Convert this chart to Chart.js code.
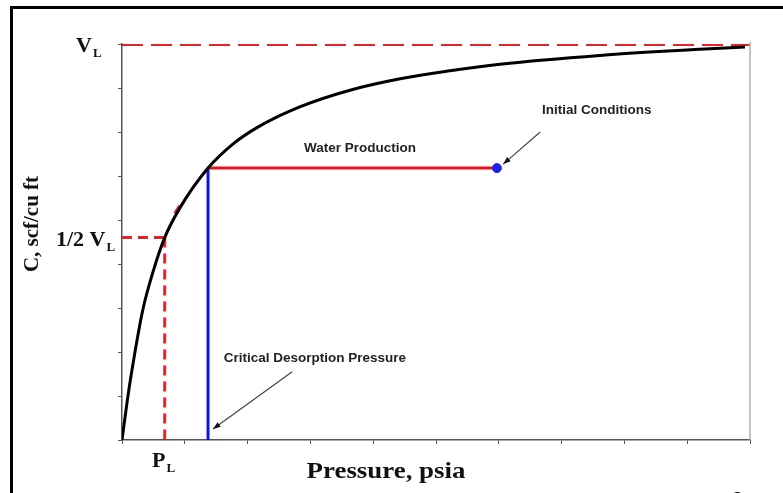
<!DOCTYPE html>
<html>
<head>
<meta charset="utf-8">
<script src="https://cdn.jsdelivr.net/npm/chart.js@4.4.1/dist/chart.umd.min.js"></script>
<style>
  html, body { margin: 0; padding: 0; background: #fff; }
  #wrap { width: 783px; height: 493px; position: relative; }
</style>
</head>
<body>
<div id="wrap"><canvas id="chart" width="783" height="493"></canvas></div>
<script>
// isotherm (pressure, gas content) in axis tick units
const pressure = [0, 0.08, 0.16, 0.33, 0.5, 0.68, 0.92, 1.37, 1.77, 2.15, 2.83, 3.63, 4.43, 5.22, 6.02, 7.61, 9.2, 9.92];
const content  = [0, 0.85, 1.6, 2.95, 3.85, 4.6, 5.27, 6.18, 6.73, 7.1, 7.57, 7.95, 8.21, 8.39, 8.54, 8.74, 8.88, 8.93];

// key points
const vL = 9;          // Langmuir volume
const halfVL = 4.6;    // 1/2 VL
const pL = 0.68;       // Langmuir pressure
const critP = 1.37;    // critical desorption pressure
const critC = 6.18;    // content at initial conditions
const initP = 5.97;    // initial reservoir pressure

const xMax = 10, yMax = 9;

const pts = (xs, ys) => xs.map((x, i) => ({ x: x, y: ys[i] }));

const serif = '"Liberation Serif", "Times New Roman", serif';

// texts, arrows, frame
const extras = {
  id: 'extras',
  afterDraw(chart) {
    const ctx = chart.ctx;
    const xs = chart.scales.x, ys = chart.scales.y;
    const X = v => xs.getPixelForValue(v), Y = v => ys.getPixelForValue(v);
    const area = chart.chartArea;
    ctx.save();

    // slide frame
    ctx.fillStyle = '#000';
    ctx.fillRect(10, 6, 790, 3);
    ctx.fillRect(10, 6, 3, 500);

    // right border of plot
    ctx.strokeStyle = '#b0b0b0';
    ctx.lineWidth = 1.5;
    ctx.beginPath();
    ctx.moveTo(area.right, area.top - 2);
    ctx.lineTo(area.right, area.bottom);
    ctx.stroke();

    // annotation labels
    ctx.fillStyle = '#222';
    ctx.font = 'bold 13.5px "Liberation Sans", Arial, sans-serif';
    ctx.textAlign = 'center';
    ctx.textBaseline = 'middle';
    ctx.fillText('Water Production', X(3.79), Y(6.64));
    ctx.fillText('Initial Conditions', X(7.56), Y(7.5));
    ctx.fillText('Critical Desorption Pressure', X(3.07), Y(1.86));

    // arrows
    function arrow(x1, y1, x2, y2) {
      const a = Math.atan2(y2 - y1, x2 - x1);
      ctx.strokeStyle = '#444';
      ctx.fillStyle = '#111';
      ctx.lineWidth = 1.2;
      ctx.beginPath();
      ctx.moveTo(x1, y1);
      ctx.lineTo(x2, y2);
      ctx.stroke();
      ctx.beginPath();
      ctx.moveTo(x2, y2);
      ctx.lineTo(x2 - 8 * Math.cos(a - 0.35), y2 - 8 * Math.sin(a - 0.35));
      ctx.lineTo(x2 - 8 * Math.cos(a + 0.35), y2 - 8 * Math.sin(a + 0.35));
      ctx.closePath();
      ctx.fill();
    }
    arrow(X(6.66), Y(7.0), X(6.07), Y(6.27));
    arrow(X(2.71), Y(1.55), X(1.45), Y(0.25));

    // axis labels (serif, bold)
    ctx.fillStyle = '#111';
    ctx.textBaseline = 'alphabetic';
    function sub(main, s, x, y, size) {
      ctx.font = 'bold ' + size + 'px ' + serif;
      ctx.textAlign = 'left';
      ctx.fillText(main, x, y);
      const w = ctx.measureText(main).width;
      ctx.font = 'bold ' + Math.round(size * 0.6) + 'px ' + serif;
      ctx.fillText(s, x + w + 1, y + 5);
    }
    sub('V', 'L', 76, Y(vL) + 8, 22);
    sub('1/2 V', 'L', 56, Y(halfVL) + 8, 22);
    sub('P', 'L', 152, 467, 22);

    ctx.font = 'bold 24px ' + serif;
    ctx.textAlign = 'center';
    ctx.save();
    ctx.translate(386, 478);
    ctx.scale(1.12, 1);
    ctx.fillText('Pressure, psia', 0, 0);
    ctx.restore();

    ctx.save();
    ctx.font = 'bold 21px ' + serif;
    ctx.translate(38, 224);
    ctx.rotate(-Math.PI / 2);
    ctx.fillText('C, scf/cu ft', 0, 0);
    ctx.restore();

    // slide page number (cut off at bottom)
    ctx.font = 'bold 20px ' + serif;
    ctx.fillText('2', 738, 506);

    ctx.restore();
  }
};

new Chart(document.getElementById('chart'), {
  type: 'line',
  data: {
    datasets: [
      { // isotherm
        data: pts(pressure, content),
        borderColor: '#000', borderWidth: 3,
        cubicInterpolationMode: 'monotone', pointRadius: 0, order: 0
      },
      { // VL
        data: [{ x: 0, y: vL }, { x: xMax, y: vL }],
        borderColor: '#e2232a', borderWidth: 4, borderDash: [21, 8],
        pointRadius: 0, order: 3
      },
      { // 1/2 VL horizontal
        data: [{ x: 0, y: halfVL }, { x: pL, y: halfVL }],
        borderColor: '#e2232a', borderWidth: 3, borderDash: [10, 6],
        pointRadius: 0, order: 3
      },
      { // PL vertical
        data: [{ x: pL, y: halfVL }, { x: pL, y: 0 }],
        borderColor: '#e2232a', borderWidth: 3, borderDash: [10, 6],
        pointRadius: 0, order: 3
      },
      { // small red mark beside the curve
        data: [{ x: 0.84, y: 5.15 }, { x: 0.92, y: 5.33 }],
        borderColor: '#e2232a', borderWidth: 3,
        pointRadius: 0, order: 3
      },
      { // water production
        data: [{ x: critP, y: critC }, { x: initP, y: critC }],
        borderColor: '#e3141c', borderWidth: 3,
        pointRadius: 0, order: 2
      },
      { // critical desorption pressure
        data: [{ x: critP, y: critC }, { x: critP, y: 0 }],
        borderColor: '#1414e6', borderWidth: 3,
        pointRadius: 0, order: 2
      },
      { // initial conditions point
        data: [{ x: initP, y: critC }],
        showLine: false, pointRadius: 4.5,
        pointBackgroundColor: '#1a22ee', pointBorderColor: '#1a22ee', order: 1
      }
    ]
  },
  options: {
    responsive: false,
    animation: false,
    layout: { padding: { left: 122, top: 44, right: 33, bottom: 53 } },
    plugins: { legend: { display: false }, tooltip: { enabled: false } },
    scales: {
      x: {
        type: 'linear', min: 0, max: xMax,
        afterFit: s => { s.height = 0; },
        ticks: { stepSize: 1, callback: () => '' },
        grid: { drawOnChartArea: false, drawTicks: true, tickLength: 4, color: '#555' },
        border: { display: true, color: '#555', width: 1.5 }
      },
      y: {
        type: 'linear', min: 0, max: yMax,
        afterFit: s => { s.width = 0; },
        ticks: { stepSize: 1, callback: () => '' },
        grid: { drawOnChartArea: false, drawTicks: true, tickLength: 4, color: '#555' },
        border: { display: true, color: '#555', width: 1.5 }
      }
    }
  },
  plugins: [extras]
});
</script>
</body>
</html>
